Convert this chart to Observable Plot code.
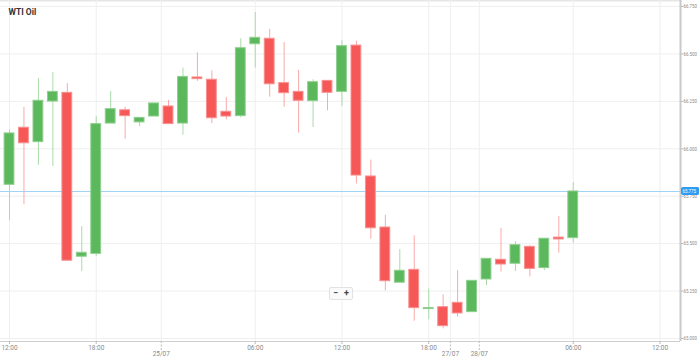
<!DOCTYPE html>
<html>
<head>
<meta charset="utf-8">
<script src="https://cdn.jsdelivr.net/npm/d3@7"></script>
<script src="https://cdn.jsdelivr.net/npm/@observablehq/plot@0.6"></script>
<style>
  html, body { margin: 0; padding: 0; background: #fff; overflow: hidden; }
  #wrap { position: relative; width: 699px; height: 358px; font-family: Roboto, "Open Sans", sans-serif; }
  #zoombtn { position: absolute; left: 329px; top: 287px; width: 22px; height: 11px; border: 1px solid #e2e2e2; background: #fafafa;
    font-size: 9px; font-weight: bold; color: #444; display: flex; justify-content: space-around; align-items: center; line-height: 9px; border-radius: 2px; }
</style>
</head>
<body>
<div id="wrap"><div id="zoombtn"><span>−</span><span>+</span></div></div>
<script>
const title = "WTI Oil";
const open  = [65.810, 66.111, 66.035, 66.249, 66.295, 65.431, 65.446, 66.133, 66.203, 66.139,
               66.170, 66.223, 66.133, 66.376, 66.364, 66.195, 66.172, 66.551, 66.580, 66.346,
               66.300, 66.251, 66.358, 66.300, 66.544, 65.854, 65.585, 65.294, 65.362, 65.155,
               65.165, 65.188, 65.139, 65.311, 65.415, 65.394, 65.483, 65.371, 65.532, 65.529];
const high  = [66.100, 66.219, 66.370, 66.401, 66.343, 65.590, 66.169, 66.302, 66.219, 66.163,
               66.239, 66.255, 66.425, 66.506, 66.411, 66.270, 66.580, 66.718, 66.630, 66.560,
               66.414, 66.364, 66.358, 66.569, 66.567, 65.940, 65.650, 65.469, 65.541, 65.260,
               65.230, 65.358, 65.304, 65.420, 65.581, 65.511, 65.490, 65.526, 65.643, 65.822];
const low   = [65.622, 65.705, 65.913, 65.907, 65.406, 65.353, 65.432, 66.133, 66.051, 66.117,
               66.170, 66.128, 66.072, 66.355, 66.132, 66.153, 66.163, 66.425, 66.272, 66.219,
               66.082, 66.112, 66.200, 66.223, 65.815, 65.523, 65.251, 65.302, 65.091, 65.099,
               65.051, 65.112, 65.139, 65.279, 65.350, 65.353, 65.325, 65.358, 65.450, 65.502];
const close = [66.081, 66.029, 66.253, 66.300, 65.410, 65.452, 66.130, 66.209, 66.172, 66.163,
               66.239, 66.130, 66.379, 66.367, 66.161, 66.170, 66.530, 66.585, 66.340, 66.293,
               66.253, 66.351, 66.295, 66.541, 65.859, 65.581, 65.302, 65.357, 65.160, 65.161,
               65.065, 65.132, 65.304, 65.420, 65.390, 65.492, 65.367, 65.526, 65.522, 65.775];
const currentPrice = 65.775;

// x ticks: position in candle slots (hourly candles), label, kind
const xTickPos    = [0, 6, 10.5, 17, 23, 29, 30.5, 32.5, 39, 45];
const xTickLabels = ["12:00", "18:00", "25/07", "06:00", "12:00", "18:00", "27/07", "28/07", "06:00", "12:00"];
const xTickIsDate = [false, false, true, false, false, false, true, true, false, false];
const yTicks = [65.0, 65.25, 65.5, 65.75, 66.0, 66.25, 66.5, 66.75];

const xDomain = [-0.6226, 46.42];
const yDomain = [64.9842, 66.7816];

const candles = open.map((o, i) => ({i, open: o, high: high[i], low: low[i], close: close[i], up: close[i] >= o}));
const timeTicks = xTickPos.map((p, k) => ({p, label: xTickLabels[k], date: xTickIsDate[k]}));
const times = timeTicks.filter(d => !d.date);
const dates = timeTicks.filter(d => d.date);

const GREEN = "#5cb85c", RED = "#f65757";
const GREEN_W = "#a9dba9", RED_W = "#f9aaaa";

const chart = Plot.plot({
  width: 699,
  height: 358,
  marginLeft: 0,
  marginRight: 19,
  marginTop: 0,
  marginBottom: 17,
  style: {fontFamily: "Roboto, 'Open Sans', sans-serif", background: "transparent"},
  x: {type: "linear", domain: xDomain, axis: null, label: null},
  y: {domain: yDomain, axis: null, label: null},
  marks: [
    Plot.ruleY([yDomain[1]], {stroke: "#e6e6e6", strokeWidth: 2}),
    Plot.gridY(yTicks, {stroke: "#efefef", strokeOpacity: 1}),
    Plot.gridX(xTickPos, {stroke: "#efefef", strokeOpacity: 1}),
    Plot.ruleY([currentPrice], {stroke: "#9fd2f5", strokeWidth: 1}),
    Plot.ruleX(candles, {x: "i", y1: "low", y2: "high", stroke: d => d.up ? GREEN_W : RED_W, strokeWidth: 1}),
    Plot.rect(candles, {
      x1: d => d.i - 0.34, x2: d => d.i + 0.34,
      y1: "open", y2: "close",
      fill: d => d.up ? GREEN : RED,
      stroke: d => d.up ? "#8fcf8f" : "#f89090",
      strokeWidth: 1
    }),
    // bottom axis line
    Plot.ruleY([yDomain[0]], {stroke: "#cfcfcf", strokeWidth: 1}),
    // right axis line
    Plot.ruleX([xDomain[1]], {stroke: "#c9c9c9", strokeWidth: 2}),
    // right y axis
    Plot.axisY(yTicks, {anchor: "right", tickSize: 2.5, tickPadding: 0.5, fontSize: 5.5, stroke: "#bbb", fill: "#8a8a8a",
      tickFormat: d3.format(".3f"), label: null}),
    // time ticks
    Plot.axisX(times.map(d => d.p), {anchor: "bottom", tickSize: 3, tickPadding: 1, fontSize: 6.5, stroke: "#bbb", fill: "#8a8a8a",
      tickFormat: p => times.find(d => d.p === p).label, label: null}),
    // date ticks (dashed, lower)
    Plot.axisX(dates.map(d => d.p), {anchor: "bottom", tickSize: 9, tickPadding: 1, fontSize: 6.5, stroke: "#bbb", fill: "#8a8a8a",
      strokeDasharray: "2,1.5",
      tickFormat: p => dates.find(d => d.p === p).label, label: null}),
    // current price tag
    Plot.rect([currentPrice], {x1: xDomain[1], x2: xDomain[1] + 1.33, y1: d => d + 0.021, y2: d => d - 0.021,
      fill: "#2d9cf0", rx: 2, insetLeft: 1}),
    Plot.text([currentPrice], {x: xDomain[1], y: d => d, text: d => d3.format(".3f")(d), textAnchor: "start", dx: 2,
      fill: "white", fontSize: 5.5}),
    // title
    Plot.text([title], {frameAnchor: "top-left", dx: 8, dy: 8, fontWeight: "bold", fontSize: 8.5, fill: "#333", lineAnchor: "top"})
  ]
});
// condense the narrow right-axis labels to fit the 16px gutter, like the reference
chart.querySelectorAll("g[aria-label='y-axis tick label'] text").forEach(t => {
  t.setAttribute("textLength", "13.5");
  t.setAttribute("lengthAdjust", "spacingAndGlyphs");
});
chart.querySelectorAll("g[aria-label='text'] text").forEach(t => {
  if (t.textContent === d3.format(".3f")(currentPrice)) {
    t.setAttribute("textLength", "13.5");
    t.setAttribute("lengthAdjust", "spacingAndGlyphs");
  }
});
document.getElementById("wrap").prepend(chart);
</script>
</body>
</html>
